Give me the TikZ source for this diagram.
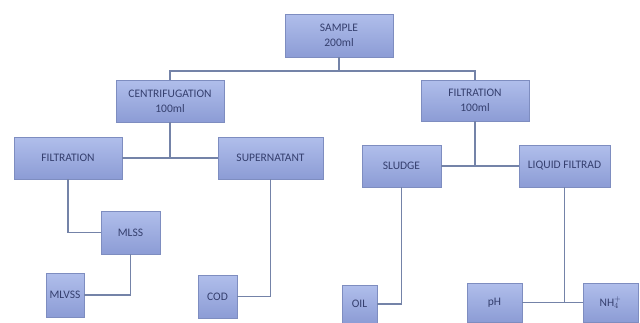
\documentclass[tikz,border=0pt]{standalone}
\usepackage{fontspec}
\setmainfont{Carlito}
\usetikzlibrary{shadows}
\definecolor{boxtop}{HTML}{B0BEEB}
\definecolor{boxbot}{HTML}{8C9CD5}
\definecolor{boxline}{HTML}{7E8DC0}
\definecolor{conn}{HTML}{7483A8}
\definecolor{txt}{HTML}{353F6E}
\tikzset{
  boxnode/.style={draw=boxline, line width=0.7pt, top color=boxtop, bottom color=boxbot,
    text=txt, font=\fontsize{11.5}{15}\selectfont, align=center, inner sep=0.5pt,
    drop shadow={shadow xshift=0.8pt, shadow yshift=-0.8pt, opacity=0.25}},
  conline/.style={draw=conn, line width=1.5pt}
}
\begin{document}
\begin{tikzpicture}[x=1pt,y=-1pt]
\useasboundingbox (0,0) rectangle (640,322);
\node[boxnode, minimum width=108, minimum height=43] (sample) at (339,35.5) {SAMPLE\\200ml};
\node[boxnode, minimum width=108, minimum height=42] (cent) at (170,101) {CENTRIFUGATION\\100ml};
\node[boxnode, minimum width=108, minimum height=41] (filtb) at (475,100.5) {FILTRATION\\100ml};
\node[boxnode, minimum width=108, minimum height=42] (filta) at (68,158) {FILTRATION};
\node[boxnode, minimum width=105, minimum height=42] (super) at (270.5,158) {SUPERNATANT};
\node[boxnode, minimum width=59, minimum height=43] (mlss) at (130.5,232.5) {MLSS};
\node[boxnode, minimum width=38, minimum height=44] (mlvss) at (65,295) {MLVSS};
\node[boxnode, minimum width=39, minimum height=43] (cod) at (217.5,296.5) {COD};
\node[boxnode, minimum width=79, minimum height=42] (sludge) at (401.5,166) {SLUDGE};
\node[boxnode, minimum width=91, minimum height=42] (liq) at (564.5,166) {LIQUID FILTRAD};
\node[boxnode, minimum width=35, minimum height=38] (oil) at (359.5,304) {OIL};
\node[boxnode, minimum width=55, minimum height=39] (ph) at (494.5,302.5) {pH};
\node[boxnode, minimum width=55, minimum height=39] (nh) at (610.5,302.5) {NH$_4^+$};
\coordinate (j0) at (339,71);
\draw[conline] (sample.south) -- (j0);
\draw[conline] (cent.north) |- (j0) -| (filtb.north);
\draw[conline] (filta.east) -- (super.west);
\draw[conline] (cent.south) -- (cent.south |- filta.east);
\draw[conline] (filta.south) |- (mlss.west);
\draw[conline] (mlss.south) |- (mlvss.east);
\draw[conline] (super.south) |- (cod.east);
\draw[conline] (sludge.east) -- (liq.west);
\draw[conline] (filtb.south) -- (filtb.south |- liq.west);
\draw[conline] (sludge.south) |- (oil.east);
\draw[conline] (ph.east) -- (nh.west);
\draw[conline] (liq.south) -- (liq.south |- ph.east);
\end{tikzpicture}
\end{document}
